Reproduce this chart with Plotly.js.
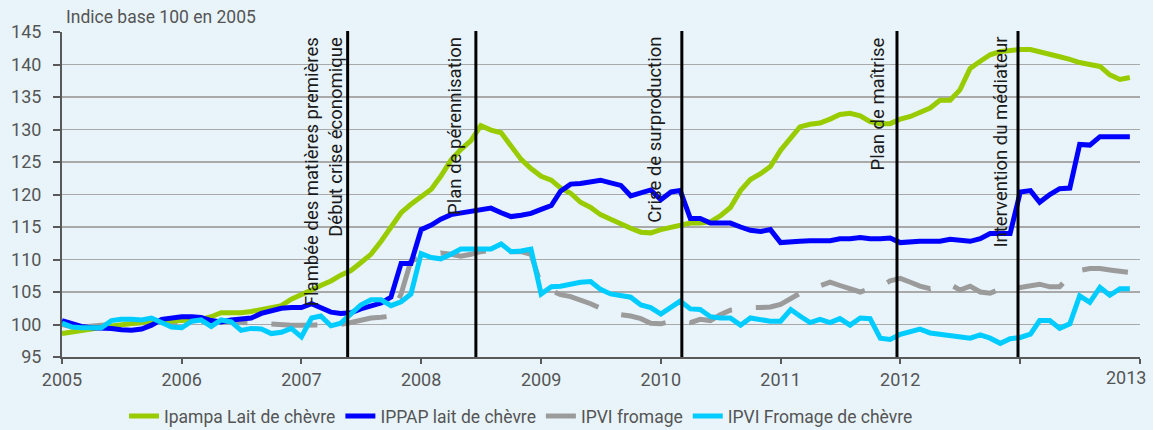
<!DOCTYPE html>
<html>
<head>
<meta charset="utf-8">
<script src="https://cdn.plot.ly/plotly-3.0.1.min.js"></script>
<style>
html,body{margin:0;padding:0;background:#e8f4fa;}
#chart{width:1153px;height:430px;}
</style>
</head>
<body>
<div id="chart"></div>
<script>
// Monthly categories, January 2005 to December 2013
const months = [];
for (let y = 2005; y <= 2013; y++) {
  for (let m = 1; m <= 12; m++) months.push(y + '-' + String(m).padStart(2, '0') + '-01');
}

const ipampaLaitChevre = [98.6,98.8,99.0,99.3,99.6,99.8,100.0,100.1,100.3,100.5,
100.5,100.5,100.6,100.7,100.8,101.2,101.8,101.8,101.8,102.0,
102.3,102.5,102.9,103.9,104.5,105.3,106.0,106.7,107.6,108.3,
109.5,110.8,112.8,115.1,117.2,118.5,119.7,120.8,122.8,125.3,
126.9,128.3,130.6,129.9,129.5,127.5,125.4,124.0,122.8,122.2,
121.0,120.2,118.8,118.0,116.9,116.2,115.4,114.8,114.2,114.1,
114.6,115.0,115.3,115.6,115.6,115.8,116.7,118.0,120.6,122.3,
123.2,124.3,126.8,128.7,130.4,130.8,131.0,131.6,132.3,132.5,
132.1,131.2,130.9,130.9,131.6,132.0,132.6,133.3,134.5,134.5,
136.1,139.4,140.5,141.5,142.0,142.2,142.3,142.3,142.0,141.7,
141.2,140.8,140.3,140.0,139.7,138.4,137.7,138.0];

const ippapLaitChevre = [100.6,100.1,99.7,99.5,99.5,99.4,99.2,99.1,99.3,99.9,
100.8,101.0,101.2,101.2,101.1,100.6,100.4,100.7,100.8,101.0,
101.7,102.0,102.5,102.6,102.6,103.2,102.5,101.9,101.7,101.8,
102.4,102.9,103.3,104.2,109.4,109.4,114.6,115.3,116.2,116.9,
117.1,117.3,117.5,117.9,117.2,116.6,116.8,117.1,117.7,118.3,
120.5,121.6,121.7,121.9,122.2,121.8,121.4,119.8,120.2,120.7,
119.2,120.4,120.6,116.3,116.3,115.6,115.6,115.6,115.0,114.5,
114.3,114.6,112.6,112.8,112.8,112.9,112.9,112.9,113.2,113.2,
113.4,113.2,113.2,113.3,112.6,112.8,112.8,112.8,112.8,113.1,
113.0,112.8,113.2,114.0,114.0,114.0,120.4,120.6,118.8,120.0,
120.9,121.0,127.7,127.6,128.9,128.9,128.9,128.9];

const ipviFromage = [100.0,99.6,99.6,99.8,99.9,100.0,100.1,100.2,100.3,100.4,
100.4,100.3,100.3,100.4,100.5,100.5,100.4,100.4,100.3,100.2,
100.1,100.0,100.0,99.9,99.9,99.9,99.9,100.0,100.0,100.3,
100.6,101.0,101.1,101.3,104.7,109.8,110.3,110.7,111.0,110.8,
110.5,110.8,111.2,111.4,111.4,111.2,111.2,110.8,106.0,105.2,
104.6,104.3,103.8,103.2,102.5,101.9,101.5,101.3,100.9,100.2,
100.1,100.5,100.6,100.3,100.8,100.6,101.5,102.2,102.5,102.6,
102.6,102.7,103.1,104.0,104.8,105.4,105.9,106.5,106.0,105.4,
105.0,105.5,105.8,106.7,107.1,106.5,105.9,105.5,105.9,106.2,
105.3,105.9,105.0,104.8,105.5,105.7,105.7,106.0,106.2,105.8,
105.8,107.5,108.3,108.6,108.6,108.4,108.2,108.0];

const ipviFromageChevre = [100.2,99.6,99.5,99.5,99.5,100.6,100.8,100.8,100.7,101.0,
100.2,99.6,99.5,100.5,100.7,99.7,100.7,100.4,99.1,99.4,
99.3,98.6,98.8,99.4,98.1,101.0,101.3,99.8,100.2,101.7,
103.0,103.8,103.8,102.9,103.5,104.7,110.9,110.3,110.1,110.8,
111.6,111.6,111.6,111.6,112.4,111.2,111.3,111.6,104.7,105.8,
105.9,106.2,106.5,106.6,105.4,104.7,104.5,104.2,103.0,102.6,
101.6,102.6,103.6,102.4,102.3,101.2,101.0,101.0,99.9,101.0,
100.7,100.5,100.5,102.3,101.3,100.3,100.8,100.3,100.9,99.9,
101.0,100.9,97.9,97.7,98.5,98.9,99.3,98.7,98.5,98.4,
98.1,97.9,98.4,97.9,97.1,97.8,98.0,98.5,100.6,100.6,
99.4,100.1,104.4,103.4,105.7,104.5,105.5,105.5];

const tickVals = ['2005-01-01','2006-01-01','2007-01-01','2008-01-01','2009-01-01',
  '2010-01-01','2011-01-01','2012-01-01','2013-01-01','2014-01-01'];
const tickText = ['2005','2006','2007','2008','2009','2010','2011','2012','',''];
const lastTickLabel = '2013';

const eventDates = ['2007-05-22','2008-06-16','2010-03-06','2011-12-22','2012-12-25'];
const eventLabels = [
  'Flambée des matières premières<br>Début crise économique',
  'Plan de pérennisation',
  'Crise de surproduction',
  'Plan de maîtrise',
  'Intervention du médiateur'
];
const eventShift = [1, -8, -14, -6, -5];

const FONT = 'Roboto, "Open Sans", sans-serif';

const traces = [
  {x: months, y: ipviFromage, name: 'IPVI fromage', type: 'scatter', mode: 'lines',
   line: {color: '#9b9b9b', width: 5, dash: '46px,24px'}, legendrank: 3},
  {x: months, y: ipampaLaitChevre, name: 'Ipampa Lait de chèvre', type: 'scatter', mode: 'lines',
   line: {color: '#99cc00', width: 5}, legendrank: 1},
  {x: months, y: ippapLaitChevre, name: 'IPPAP lait de chèvre', type: 'scatter', mode: 'lines',
   line: {color: '#0000ff', width: 5}, legendrank: 2},
  {x: months, y: ipviFromageChevre, name: 'IPVI Fromage de chèvre', type: 'scatter', mode: 'lines',
   line: {color: '#00ccff', width: 5}, legendrank: 4}
];

const shapes = eventDates.map(d => ({
  type: 'line', xref: 'x', yref: 'paper', x0: d, x1: d, y0: 0, y1: 1.003,
  line: {color: '#000000', width: 3}
}));

const annotations = eventDates.map((d, k) => ({
  x: d, xref: 'x', y: 1, yref: 'paper', xanchor: 'right', yanchor: 'top',
  xshift: eventShift[k], yshift: -3,
  text: eventLabels[k], textangle: -90, showarrow: false, align: 'right',
  font: {family: FONT, size: 18.5, color: '#1a1a1a'}
}));
annotations.push({
  x: 0, xref: 'paper', y: 1, yref: 'paper', xanchor: 'left', yanchor: 'bottom',
  xshift: 2, yshift: 3, text: 'Indice base 100 en 2005', showarrow: false,
  font: {family: FONT, size: 17.5, color: '#555555'}
});
annotations.push({
  x: '2014-01-01', xref: 'x', y: 0, yref: 'paper', xanchor: 'right', yanchor: 'top',
  xshift: 8, yshift: -8, text: lastTickLabel, showarrow: false,
  font: {family: FONT, size: 18, color: '#555555'}
});

const layout = {
  width: 1153, height: 430,
  margin: {l: 62, r: 13, t: 32, b: 73, autoexpand: false},
  paper_bgcolor: '#e8f4fa', plot_bgcolor: '#e8f4fa',
  font: {family: FONT, color: '#555555'},
  showlegend: true,
  legend: {orientation: 'h', x: 0.0575, xanchor: 'left', xref: 'paper',
    y: 0.074, yanchor: 'top', yref: 'container',
    font: {family: FONT, size: 17.5, color: '#555555'}, bgcolor: 'rgba(0,0,0,0)'},
  xaxis: {type: 'date', range: ['2005-01-01', '2014-01-01'], tickmode: 'array',
    tickvals: tickVals, ticktext: tickText, showgrid: false, showline: true,
    linecolor: '#595959', linewidth: 2, ticks: 'outside', ticklen: 5, tickwidth: 2,
    tickcolor: '#595959', tickfont: {family: FONT, size: 18, color: '#555555'}, zeroline: false},
  yaxis: {range: [95, 145], dtick: 5, tick0: 95, showgrid: true, gridcolor: '#a9a9a9', gridwidth: 1.5,
    showline: true, linecolor: '#595959', linewidth: 2, ticks: 'outside', ticklen: 7, tickwidth: 2,
    ticklabelstandoff: 8,
    tickcolor: '#595959', tickfont: {family: FONT, size: 18, color: '#555555'}, zeroline: false},
  shapes: shapes,
  annotations: annotations
};

Plotly.newPlot('chart', traces, layout, {displayModeBar: false, staticPlot: true});
</script>
</body>
</html>
